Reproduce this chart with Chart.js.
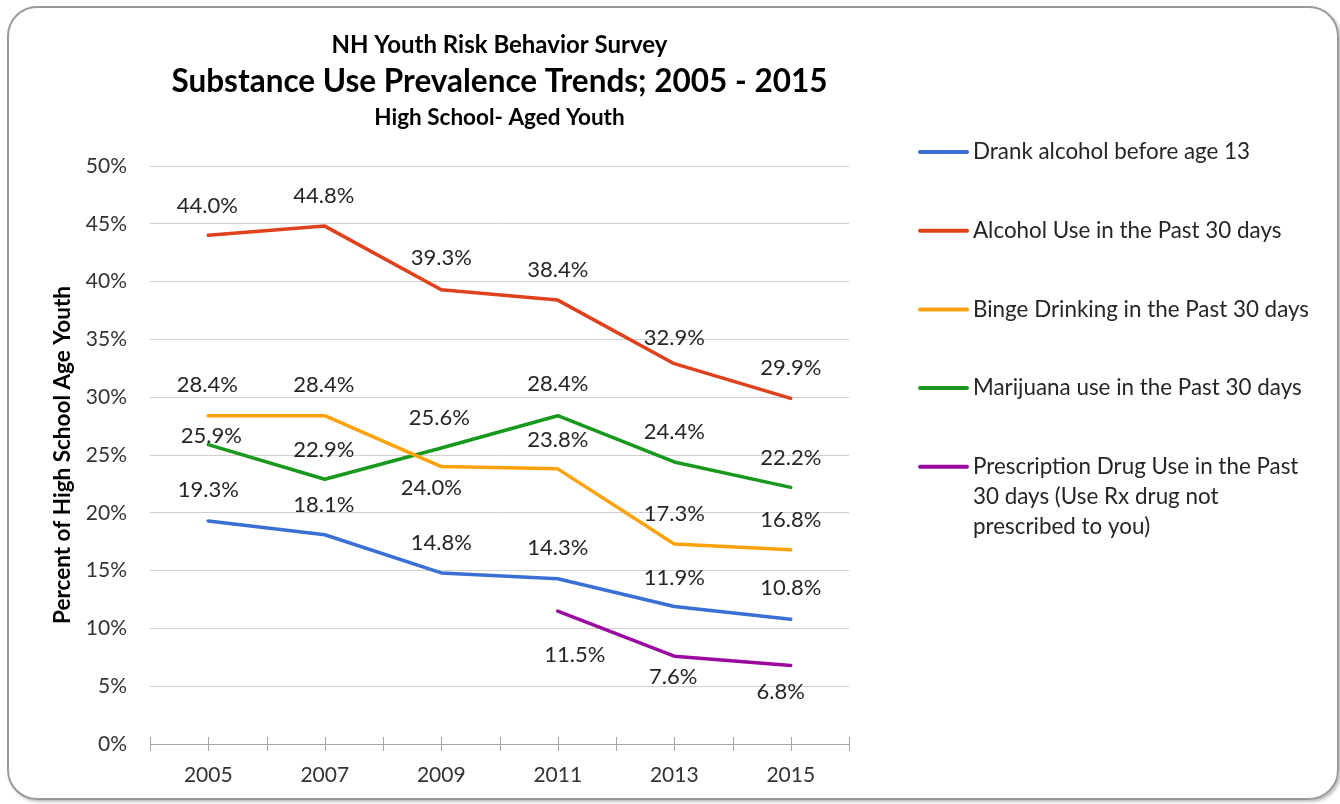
<!DOCTYPE html>
<html lang="en">

<head>
    <meta charset="UTF-8">
    <title>NH YRBS - Substance Use Trends</title>
    <script src="https://cdn.jsdelivr.net/npm/chart.js"></script>
    <style>
        body {
            margin: 0;
            background: #fff;
        }

        .quadro {
            position: relative;
            width: 1340px;
            height: 804px;
        }

        .moldura {
            position: absolute;
            left: 7px;
            top: 6px;
            width: 1328px;
            height: 790px;
            border: 2px solid #9a9a9a;
            border-radius: 30px;
            box-shadow: 2px 2px 3px rgba(0, 0, 0, 0.25);
            pointer-events: none;
        }
    </style>
</head>

<body>
    <div class="quadro">
        <canvas id="grafico" width="1340" height="804"></canvas>
        <div class="moldura"></div>
    </div>
</body>

</html>

<script>
    // anos da pesquisa
    const anos = ['2005', '2007', '2009', '2011', '2013', '2015'];

    // percentuais de cada indicador
    const bebeuAntes13 = [19.3, 18.1, 14.8, 14.3, 11.9, 10.8];
    const alcool30dias = [44.0, 44.8, 39.3, 38.4, 32.9, 29.9];
    const bingeDrinking = [28.4, 28.4, 24.0, 23.8, 17.3, 16.8];
    const maconha30dias = [25.9, 22.9, 25.6, 28.4, 24.4, 22.2];
    const remedioSemReceita = [null, null, null, 11.5, 7.6, 6.8];

    const nomesSeries = [
        'Drank alcohol before age 13',
        'Alcohol Use in the Past 30 days',
        'Binge Drinking in the Past 30 days',
        'Marijuana use in the Past 30 days',
        'Prescription Drug Use in the Past 30 days (Use Rx drug not prescribed to you)'
    ];

    const titulos = [
        'NH Youth Risk Behavior Survey',
        'Substance Use Prevalence Trends; 2005 - 2015',
        'High School- Aged Youth'
    ];

    const tituloEixoY = 'Percent of High School Age Youth';

    // onde fica o rótulo de cada ponto (dx, dy em relação ao ponto)
    const posRotulos = [
        [[0, -31], [-1, -30], [0, -30], [0, -31], [0, -29], [0, -31]],
        [[-1, -29], [-1, -30], [0, -32], [0, -30], [0, -26], [0, -30]],
        [[-1, -31], [-1, -31], [-10, 21], [0, -29], [0, -30], [0, -30]],
        [[3, -9], [-1, -29], [-2, -30], [0, -32], [0, -30], [0, -29]],
        [null, null, null, [17, 44], [-1, 21], [-10, 27]]
    ];

    const cores = ['#3a6fd6', '#e0401c', '#ffa20a', '#18981c', '#9a0aa0'];
    const fonte = 'Lato, "Open Sans", sans-serif';

    const series = [bebeuAntes13, alcool30dias, bingeDrinking, maconha30dias, remedioSemReceita];

    const dados = {
        labels: anos,
        datasets: series.map(function (valores, i) {
            return {
                label: nomesSeries[i],
                data: valores,
                borderColor: cores[i],
                backgroundColor: cores[i],
                borderWidth: 3.5,
                borderCapStyle: 'round',
                borderJoinStyle: 'round',
                pointRadius: 0,
                tension: 0,
                spanGaps: false
            };
        })
    };

    // títulos, marcas do eixo x, rótulos de valor e legenda
    const desenhos = {
        id: 'desenhos',
        afterDatasetsDraw(chart) {
            const ctx = chart.ctx;
            const area = chart.chartArea;
            const x = chart.scales.x;
            ctx.save();

            // marcas cruzando o eixo x (fronteiras e centros das categorias)
            const passos = anos.length * 2;
            ctx.strokeStyle = '#a6a6a6';
            ctx.lineWidth = 1;
            ctx.beginPath();
            for (let i = 0; i <= passos; i++) {
                const px = Math.round(x.left + (x.right - x.left) * i / passos) + 0.5;
                ctx.moveTo(px, area.bottom - 7);
                ctx.lineTo(px, area.bottom + 7);
            }
            ctx.stroke();

            // rótulos de valor
            ctx.fillStyle = '#262626';
            ctx.font = '22px ' + fonte;
            ctx.textAlign = 'center';
            ctx.textBaseline = 'middle';
            chart.data.datasets.forEach(function (ds, i) {
                const meta = chart.getDatasetMeta(i);
                meta.data.forEach(function (ponto, j) {
                    const v = ds.data[j];
                    const pos = posRotulos[i][j];
                    if (v == null || !pos) return;
                    ctx.fillText(v.toFixed(1) + '%', ponto.x + pos[0], ponto.y + pos[1]);
                });
            });

            // títulos
            const cx = (area.left + area.right) / 2;
            ctx.fillStyle = '#000';
            ctx.font = 'bold 24px ' + fonte;
            ctx.fillText(titulos[0], cx, 45);
            ctx.font = 'bold 31.5px ' + fonte;
            ctx.fillText(titulos[1], cx, 82);
            ctx.font = 'bold 22.5px ' + fonte;
            ctx.fillText(titulos[2], cx, 118);

            // legenda
            ctx.font = '22.4px ' + fonte;
            ctx.textAlign = 'left';
            let y = 152;
            chart.data.datasets.forEach(function (ds) {
                ctx.strokeStyle = ds.borderColor;
                ctx.lineWidth = 4;
                ctx.lineCap = 'round';
                ctx.beginPath();
                ctx.moveTo(920, y);
                ctx.lineTo(967, y);
                ctx.stroke();

                // quebra o texto em linhas
                const palavras = ds.label.split(' ');
                const linhas = [];
                let atual = '';
                palavras.forEach(function (p) {
                    const teste = atual ? atual + ' ' + p : p;
                    if (ctx.measureText(teste).width > 340 && atual) {
                        linhas.push(atual);
                        atual = p;
                    } else {
                        atual = teste;
                    }
                });
                linhas.push(atual);

                ctx.fillStyle = '#262626';
                linhas.forEach(function (l, k) {
                    ctx.fillText(l, 973, y + k * 30);
                });
                y += 78.7;
            });

            ctx.restore();
        }
    };

    const config = {
        type: 'line',
        data: dados,
        options: {
            responsive: false,
            animation: false,
            devicePixelRatio: 1,
            layout: {
                padding: { top: 166, right: 491, bottom: 0, left: 45 }
            },
            plugins: {
                legend: { display: false },
                tooltip: { enabled: false }
            },
            scales: {
                x: {
                    offset: true,
                    grid: { display: false, drawTicks: false },
                    border: { display: true, color: '#a6a6a6', width: 1 },
                    ticks: {
                        color: '#333',
                        font: { family: fonte, size: 21 },
                        padding: 19,
                        maxRotation: 0
                    },
                    afterFit(scale) {
                        scale.height = 60;
                    }
                },
                y: {
                    min: 0,
                    max: 50,
                    grid: { color: '#cfcfcf', lineWidth: 1, drawTicks: false },
                    border: { display: false },
                    ticks: {
                        stepSize: 5,
                        color: '#333',
                        font: { family: fonte, size: 21 },
                        padding: 23,
                        callback: function (v) { return v + '%'; }
                    },
                    title: {
                        display: true,
                        text: tituloEixoY,
                        color: '#000',
                        font: { family: fonte, size: 22.5, weight: 'bold' },
                        padding: { top: 4, bottom: 0 }
                    },
                    afterFit(scale) {
                        scale.width = 105;
                    }
                }
            }
        },
        plugins: [desenhos]
    };

    let grafico = new Chart(document.getElementById('grafico'), config);
</script>
